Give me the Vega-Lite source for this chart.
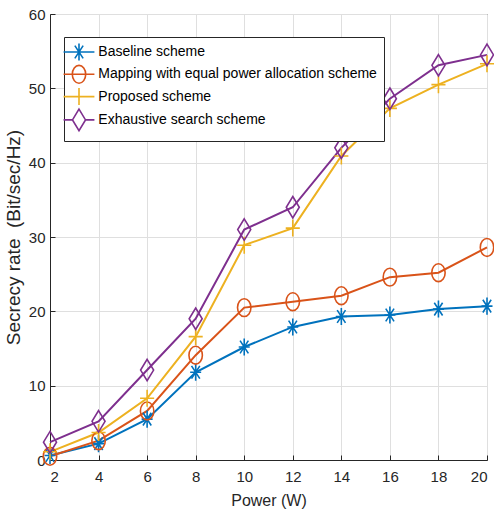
{
  "$schema": "https://vega.github.io/schema/vega-lite/v6.json",
  "width": 437,
  "height": 446,
  "autosize": {"type": "none"},
  "padding": {"left": 50, "top": 14, "right": 7, "bottom": 59},
  "background": "white",
  "config": {
    "font": "Liberation Sans",
    "view": {"stroke": "#262626", "strokeWidth": 1},
    "axis": {
      "gridColor": "#dfdfdf",
      "gridWidth": 1,
      "domainColor": "#262626",
      "tickColor": "#262626",
      "labelColor": "#262626",
      "titleColor": "#262626",
      "labelFont": "Liberation Sans",
      "titleFont": "Liberation Sans",
      "labelFontSize": 15,
      "titleFontSize": 16,
      "titleFontWeight": "normal"
    },
    "legend": {
      "orient": "none",
      "legendX": 14,
      "legendY": 23,
      "fillColor": "white",
      "strokeColor": "#262626",
      "padding": 7,
      "symbolSize": 180,
      "symbolStrokeWidth": 1.6,
      "symbolOffset": 0,
      "labelFontSize": 14,
      "labelColor": "#000000",
      "labelFont": "Liberation Sans",
      "labelOffset": 11.3,
      "rowPadding": -2.7,
      "labelLimit": 400
    }
  },
  "data": {
    "values": [
      {"power": 2, "rate": 0.6, "scheme": "Baseline scheme"},
      {"power": 4, "rate": 2.2, "scheme": "Baseline scheme"},
      {"power": 6, "rate": 5.5, "scheme": "Baseline scheme"},
      {"power": 8, "rate": 11.8, "scheme": "Baseline scheme"},
      {"power": 10, "rate": 15.2, "scheme": "Baseline scheme"},
      {"power": 12, "rate": 17.9, "scheme": "Baseline scheme"},
      {"power": 14, "rate": 19.3, "scheme": "Baseline scheme"},
      {"power": 16, "rate": 19.5, "scheme": "Baseline scheme"},
      {"power": 18, "rate": 20.3, "scheme": "Baseline scheme"},
      {"power": 20, "rate": 20.7, "scheme": "Baseline scheme"},
      {"power": 2, "rate": 0.5, "scheme": "Mapping with equal power allocation scheme"},
      {"power": 4, "rate": 2.6, "scheme": "Mapping with equal power allocation scheme"},
      {"power": 6, "rate": 6.6, "scheme": "Mapping with equal power allocation scheme"},
      {"power": 8, "rate": 14.1, "scheme": "Mapping with equal power allocation scheme"},
      {"power": 10, "rate": 20.5, "scheme": "Mapping with equal power allocation scheme"},
      {"power": 12, "rate": 21.3, "scheme": "Mapping with equal power allocation scheme"},
      {"power": 14, "rate": 22.1, "scheme": "Mapping with equal power allocation scheme"},
      {"power": 16, "rate": 24.6, "scheme": "Mapping with equal power allocation scheme"},
      {"power": 18, "rate": 25.2, "scheme": "Mapping with equal power allocation scheme"},
      {"power": 20, "rate": 28.6, "scheme": "Mapping with equal power allocation scheme"},
      {"power": 2, "rate": 1.1, "scheme": "Proposed scheme"},
      {"power": 4, "rate": 3.7, "scheme": "Proposed scheme"},
      {"power": 6, "rate": 8.3, "scheme": "Proposed scheme"},
      {"power": 8, "rate": 16.6, "scheme": "Proposed scheme"},
      {"power": 10, "rate": 28.9, "scheme": "Proposed scheme"},
      {"power": 12, "rate": 31.2, "scheme": "Proposed scheme"},
      {"power": 14, "rate": 40.9, "scheme": "Proposed scheme"},
      {"power": 16, "rate": 47.3, "scheme": "Proposed scheme"},
      {"power": 18, "rate": 50.5, "scheme": "Proposed scheme"},
      {"power": 20, "rate": 53.3, "scheme": "Proposed scheme"},
      {"power": 2, "rate": 2.4, "scheme": "Exhaustive search scheme"},
      {"power": 4, "rate": 5.2, "scheme": "Exhaustive search scheme"},
      {"power": 6, "rate": 12.1, "scheme": "Exhaustive search scheme"},
      {"power": 8, "rate": 19.0, "scheme": "Exhaustive search scheme"},
      {"power": 10, "rate": 31.0, "scheme": "Exhaustive search scheme"},
      {"power": 12, "rate": 34.0, "scheme": "Exhaustive search scheme"},
      {"power": 14, "rate": 42.0, "scheme": "Exhaustive search scheme"},
      {"power": 16, "rate": 48.6, "scheme": "Exhaustive search scheme"},
      {"power": 18, "rate": 53.1, "scheme": "Exhaustive search scheme"},
      {"power": 20, "rate": 54.5, "scheme": "Exhaustive search scheme"}
    ]
  },
  "encoding": {
    "x": {
      "field": "power",
      "type": "quantitative",
      "scale": {"domain": [2, 20], "nice": false},
      "axis": {"values": [2, 4, 6, 8, 10, 12, 14, 16, 18, 20], "title": "Power (W)", "ticks": true, "tickSize": -5, "labelPadding": 14, "titlePadding": 8}
    },
    "y": {
      "field": "rate",
      "type": "quantitative",
      "scale": {"domain": [0, 60], "nice": false},
      "axis": {"values": [0, 10, 20, 30, 40, 50, 60], "title": "Secrecy rate \u00a0(Bit/sec/Hz)", "titleFontSize": 19, "ticks": true, "tickSize": -5, "labelPadding": 10, "titlePadding": 5}
    },
    "color": {
      "field": "scheme",
      "type": "nominal",
      "title": null,
      "scale": {
        "domain": ["Baseline scheme", "Mapping with equal power allocation scheme", "Proposed scheme", "Exhaustive search scheme"],
        "range": ["#0072BD", "#D95319", "#EDB120", "#7E2F8E"]
      },
      "legend": {
        "title": null,
        "encode": {
          "symbols": {
            "update": {
              "shape": {"signal": "datum.value === 'Baseline scheme' ? 'M-2.3,0L2.3,0M-0.82,0L0.82,0M0,-1.27L0,1.27M-0.62,-0.95L0.62,0.95M-0.62,0.95L0.62,-0.95' : datum.value === 'Proposed scheme' ? 'M-2.3,0L2.3,0M0,-1.27L0,1.27' : datum.value === 'Exhaustive search scheme' ? 'M-2.3,0L-0.97,0M0.97,0L2.3,0M0,-1.6L0.97,0L0,1.6L-0.97,0Z' : 'M-2.3,0L2.3,0M-1,0A1,1.33 0 1,0 1,0A1,1.33 0 1,0 -1,0Z'"},
              "fill": {"value": "transparent"},
              "strokeWidth": {"value": 1.6},
              "size": {"value": 180}
            }
          }
        }
      }
    }
  },
  "layer": [
    {"mark": {"type": "line", "strokeWidth": 2}},
    {
      "transform": [{"filter": "datum.scheme === 'Baseline scheme'"}],
      "mark": {"type": "point", "filled": false, "size": 180, "strokeWidth": 1.6, "opacity": 1, "shape": "M-0.82,0L0.82,0M0,-1.27L0,1.27M-0.62,-0.95L0.62,0.95M-0.62,0.95L0.62,-0.95"}
    },
    {
      "transform": [{"filter": "datum.scheme === 'Mapping with equal power allocation scheme'"}],
      "mark": {"type": "point", "filled": false, "size": 180, "strokeWidth": 1.6, "opacity": 1, "shape": "M-1,0A1,1.33 0 1,0 1,0A1,1.33 0 1,0 -1,0Z"}
    },
    {
      "transform": [{"filter": "datum.scheme === 'Proposed scheme'"}],
      "mark": {"type": "point", "filled": false, "size": 180, "strokeWidth": 1.6, "opacity": 1, "shape": "M-1.05,0L1.05,0M0,-1.27L0,1.27"}
    },
    {
      "transform": [{"filter": "datum.scheme === 'Exhaustive search scheme'"}],
      "mark": {"type": "point", "filled": false, "size": 180, "strokeWidth": 1.6, "opacity": 1, "shape": "M0,-1.6L0.97,0L0,1.6L-0.97,0Z"}
    }
  ]
}
